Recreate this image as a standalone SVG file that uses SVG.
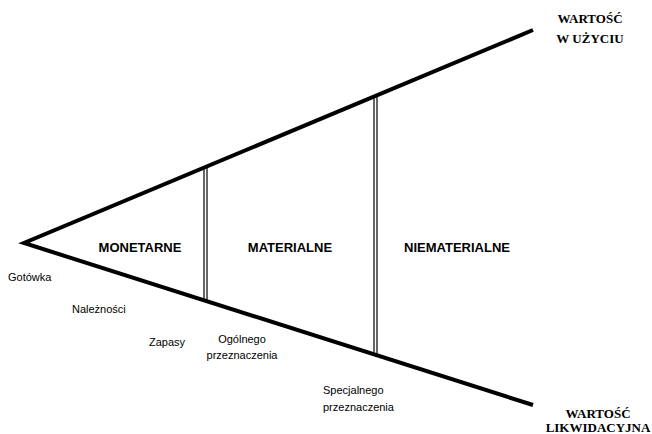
<svg xmlns="http://www.w3.org/2000/svg" width="652" height="434" viewBox="0 0 652 434">
<style>
.edge{stroke:#000;stroke-width:4;fill:none;stroke-linecap:butt;stroke-linejoin:miter}
.sep{stroke:#000;stroke-width:1.2;fill:none}
.cat{font-family:"Liberation Sans",Arial,sans-serif;font-weight:bold;font-size:13px;text-anchor:middle;fill:#000}
.lbl{font-family:"Liberation Sans",Arial,sans-serif;font-size:11px;fill:#000}
.ttl{font-family:"Liberation Serif","Times New Roman",serif;font-weight:bold;font-size:13px;text-anchor:middle;fill:#000}
</style>
<rect width="652" height="434" fill="#fff"/>
<g id="connectors">
<polyline class="edge" points="533,30 24,243 533,405"/>
<line class="sep" x1="204" y1="168" x2="204" y2="302"/>
<line class="sep" x1="207" y1="167" x2="207" y2="302"/>
<line class="sep" x1="374" y1="97" x2="374" y2="356"/>
<line class="sep" x1="377" y1="96" x2="377" y2="356"/>
</g>
<g id="monetarne"><text class="cat" x="140" y="252">MONETARNE</text></g>
<g id="materialne"><text class="cat" x="290" y="252">MATERIALNE</text></g>
<g id="niematerialne"><text class="cat" x="457" y="252">NIEMATERIALNE</text></g>
<g id="gotowka"><text class="lbl" x="8" y="281">Gotówka</text></g>
<g id="naleznosci"><text class="lbl" x="72" y="313">Należności</text></g>
<g id="zapasy"><text class="lbl" x="149" y="346">Zapasy</text></g>
<g id="ogolnego"><text class="lbl" x="242" y="343" text-anchor="middle">Ogólnego</text><text class="lbl" x="242" y="359" text-anchor="middle">przeznaczenia</text></g>
<g id="specjalnego"><text class="lbl" x="323" y="394">Specjalnego</text><text class="lbl" x="323" y="411">przeznaczenia</text></g>
<g id="uzyciu"><text class="ttl" x="590" y="23">WARTOŚĆ</text><text class="ttl" x="590" y="43">W UŻYCIU</text></g>
<g id="likwidacyjna"><text class="ttl" x="598" y="418">WARTOŚĆ</text><text class="ttl" x="598" y="432">LIKWIDACYJNA</text></g>
</svg>
